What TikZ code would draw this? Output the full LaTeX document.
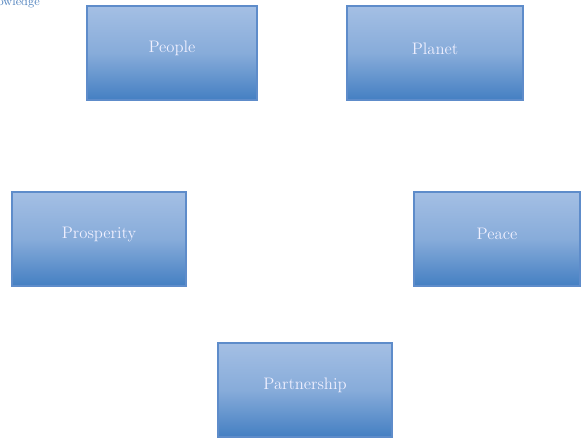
\documentclass[tikz,border=0pt]{standalone}
\usepackage{tikz}

\definecolor{boxtop}{RGB}{164,191,228}
\definecolor{boxbottom}{RGB}{68,127,194}
\definecolor{boxline}{RGB}{94,140,202}
\definecolor{labelblue}{RGB}{79,129,189}

\tikzset{
  goalbox/.style={draw=boxline, line width=0.9pt, inner sep=0pt,
    top color=boxtop, bottom color=boxbottom, middle color=boxtop!70!boxbottom,
    minimum height=70.5pt},
  goaltext/.style={text=white!94!blue, font=\fontsize{12.5}{14}\selectfont},
}

\begin{document}
\begin{tikzpicture}[x=0.75pt, y=-0.75pt]
    \clip (0,0) rectangle (581,439);
    \useasboundingbox (0,0) rectangle (581,439);
    \node[anchor=base east, text=labelblue, font=\fontsize{9}{10}\selectfont,
      inner sep=0pt] (topnote) at (40,5) {Knowledge};
    \node[goalbox, minimum width=127.5pt] (people) at (172,53) {};
    \node[goalbox, minimum width=132pt] (planet) at (435,53) {};
    \node[goalbox, minimum width=130.5pt] (prosperity) at (99,239) {};
    \node[goalbox, minimum width=124.5pt] (peace) at (497,239) {};
    \node[goalbox, minimum width=130.5pt] (partnership) at (305,390) {};
    \foreach \name/\word in {people/People, planet/Planet, prosperity/Prosperity,
      peace/Peace, partnership/Partnership}
      \node[goaltext] at ([yshift=3.5pt]\name.center) {\word};
  \end{tikzpicture}
\end{document}
